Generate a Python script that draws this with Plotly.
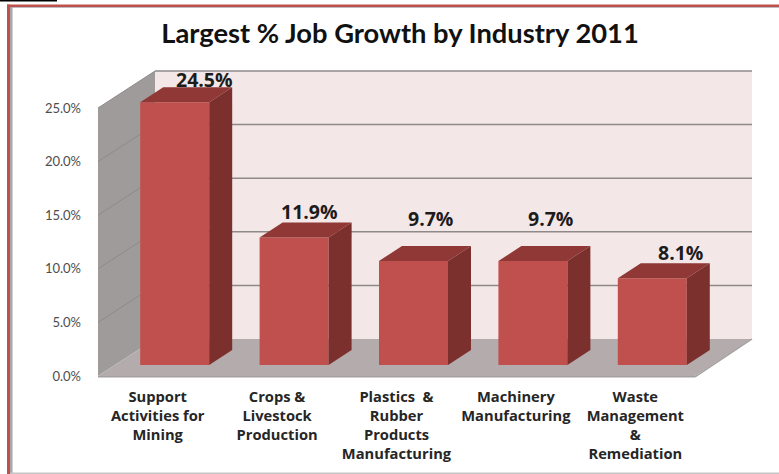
import plotly.graph_objects as go

# Chart data
industries = [
    "Support<br>Activities for<br>Mining",
    "Crops &<br>Livestock<br>Production",
    "Plastics  &<br>Rubber<br>Products<br>Manufacturing",
    "Machinery<br>Manufacturing",
    "Waste<br>Management<br>&<br>Remediation",
]
growth_pct = [24.5, 11.9, 9.7, 9.7, 8.1]
y_ticks = [0, 5, 10, 15, 20, 25]
y_tick_labels = ["0.0%", "5.0%", "10.0%", "15.0%", "20.0%", "25.0%"]

# Pixel nudges that keep each value label clear of its column
label_dx = [30, 15, 17, 18, 28]
label_dy = [23, 26, 43, 43, 26]

W, H = 779, 474
M_L, M_R, M_T, M_B = 98, 25, 65, 96
PX_PER_CAT = 119.4
PX_PER_PCT = 10.72

# Fake-3D box depth, expressed in axis units
DEPTH_X = 57 / PX_PER_CAT
DEPTH_Y = 37 / PX_PER_PCT
X_LEFT, X_RIGHT = -0.5, 4.5
Y_TOP = 25

# Column placement inside the box
BAR_W = 69 / PX_PER_CAT
BAR_SHIFT_X = 17 / PX_PER_CAT
BAR_SHIFT_Y = 11 / PX_PER_PCT
BAR_DX = 23 / PX_PER_CAT
BAR_DY = 15 / PX_PER_PCT

FRONT = "#c0504d"
TOP = "#8f3836"
SIDE = "#7c302e"
LEFT_WALL = "#a09b9b"
BACK_WALL = "#f4e7e7"
FLOOR = "#b4acac"
GRID = "#8f8a8a"
BORDER = "#c0504d"


def poly(points):
    return "M" + " L".join(f"{x},{y}" for x, y in points) + " Z"


shapes = [
    # Back wall, side wall and floor of the box
    dict(type="path", xref="x", yref="y", layer="below", line_width=0, fillcolor=BACK_WALL,
         path=poly([(X_LEFT + DEPTH_X, DEPTH_Y), (X_RIGHT + DEPTH_X, DEPTH_Y),
                    (X_RIGHT + DEPTH_X, Y_TOP + DEPTH_Y), (X_LEFT + DEPTH_X, Y_TOP + DEPTH_Y)])),
    dict(type="path", xref="x", yref="y", layer="below", line_width=0, fillcolor=LEFT_WALL,
         path=poly([(X_LEFT, 0), (X_LEFT + DEPTH_X, DEPTH_Y),
                    (X_LEFT + DEPTH_X, Y_TOP + DEPTH_Y), (X_LEFT, Y_TOP)])),
    dict(type="path", xref="x", yref="y", layer="below", line_width=0, fillcolor=FLOOR,
         path=poly([(X_LEFT, 0), (X_RIGHT, 0), (X_RIGHT + DEPTH_X, DEPTH_Y), (X_LEFT + DEPTH_X, DEPTH_Y)])),
    dict(type="line", xref="x", yref="y", layer="below", line=dict(color="#a5a0a0", width=1.5),
         x0=X_LEFT, x1=X_RIGHT, y0=-0.08, y1=-0.08),
    dict(type="line", xref="x", yref="y", layer="below", line=dict(color="#a5a0a0", width=1.5),
         x0=X_RIGHT, x1=X_RIGHT + DEPTH_X, y0=-0.08, y1=DEPTH_Y),
]

# Gridlines run back along the side wall and across the back wall
for tick in y_ticks[1:]:
    shapes.append(dict(type="line", xref="x", yref="y", layer="below", line=dict(color=GRID, width=1),
                       x0=X_LEFT, x1=X_LEFT + DEPTH_X, y0=tick, y1=tick + DEPTH_Y))
    shapes.append(dict(type="line", xref="x", yref="y", layer="below", line=dict(color=GRID, width=1.5),
                       x0=X_LEFT + DEPTH_X, x1=X_RIGHT + DEPTH_X, y0=tick + DEPTH_Y, y1=tick + DEPTH_Y))


def px_x(v):
    return (v - M_L) / (W - M_L - M_R)


def px_y(v):
    return 1 - (v - M_T) / (H - M_T - M_B)


# Slide frame: red rule with a thin grey inner line, plus the short black tab
for x0, x1, y0, y1, color in [
    (7, 779, 4.5, 7, BORDER),
    (10, 779, 7, 8, "#bdbdbd"),
    (7, 10, 4.5, 474, BORDER),
    (10, 12.5, 7, 474, "#a8a8a8"),
    (10, 779, 472.5, 474, "#c4c4c4"),
    (0, 57, 0, 1.5, "#000000"),
]:
    shapes.append(dict(type="rect", xref="paper", yref="paper", layer="above", line_width=0, fillcolor=color,
                       x0=px_x(x0), x1=px_x(x1), y0=px_y(y0), y1=px_y(y1)))

fig = go.Figure()

positions = list(range(len(industries)))

# Front faces of the columns
fig.add_trace(go.Bar(
    x=[p + BAR_SHIFT_X for p in positions],
    y=growth_pct,
    base=BAR_SHIFT_Y,
    width=BAR_W,
    marker=dict(color=FRONT, line_width=0),
    hoverinfo="skip",
))

# Top and side faces follow each column's value
for p, v in zip(positions, growth_pct):
    xl = p + BAR_SHIFT_X - BAR_W / 2
    xr = p + BAR_SHIFT_X + BAR_W / 2
    yb = BAR_SHIFT_Y
    yt = BAR_SHIFT_Y + v
    fig.add_trace(go.Scatter(
        x=[xl, xr, xr + BAR_DX, xl + BAR_DX, xl],
        y=[yt, yt, yt + BAR_DY, yt + BAR_DY, yt],
        mode="lines", fill="toself", fillcolor=TOP, line=dict(width=0), hoverinfo="skip",
    ))
    fig.add_trace(go.Scatter(
        x=[xr, xr + BAR_DX, xr + BAR_DX, xr, xr],
        y=[yb, yb + BAR_DY, yt + BAR_DY, yt, yb],
        mode="lines", fill="toself", fillcolor=SIDE, line=dict(width=0), hoverinfo="skip",
    ))

annotations = [
    dict(x=p + BAR_SHIFT_X, y=BAR_SHIFT_Y + v + BAR_DY, xref="x", yref="y",
         text=f"{v:.1f}%", showarrow=False, xshift=dx, yshift=dy - 15,
         font=dict(family="Open Sans", size=19.5, color="#1c1c1c", weight="bold"))
    for p, v, dx, dy in zip(positions, growth_pct, label_dx, label_dy)
]

fig.update_layout(
    width=W, height=H,
    margin=dict(l=M_L, r=M_R, t=M_T, b=M_B, autoexpand=False),
    paper_bgcolor="white",
    plot_bgcolor="white",
    showlegend=False,
    shapes=shapes,
    annotations=annotations,
    title=dict(text="<b>Largest % Job Growth by Industry 2011</b>",
               x=400 / W, xanchor="center", y=1 - 33 / H, yanchor="middle",
               font=dict(family="Lato", size=27.3, color="#111111")),
    xaxis=dict(
        range=[X_LEFT, X_LEFT + (W - M_L - M_R) / PX_PER_CAT],
        tickmode="array", tickvals=positions, ticktext=industries,
        ticks="", showgrid=False, zeroline=False, showline=False, ticklabelstandoff=8,
        tickangle=0,
        tickfont=dict(family="Open Sans", size=14.7, color="#262626", weight="bold"),
    ),
    yaxis=dict(
        range=[-2 / PX_PER_PCT, (H - M_T - M_B - 2) / PX_PER_PCT],
        tickmode="array", tickvals=y_ticks, ticktext=y_tick_labels,
        ticks="", showgrid=False, zeroline=False, showline=False, ticklabelstandoff=16,
        tickfont=dict(family="Lato", size=13, color="#4d4d4d"),
    ),
)

fig.write_html("out.html", config=dict(displayModeBar=False))
